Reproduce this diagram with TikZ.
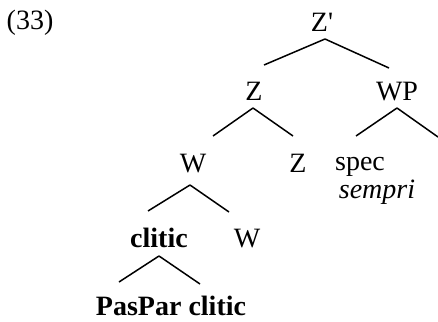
\documentclass[tikz,border=0pt]{standalone}
\usepackage{fontspec}
\setmainfont{Liberation Serif}
\usetikzlibrary{calc}
\begin{document}
\begin{tikzpicture}[x=1pt,y=-1pt,
    lbl/.style={anchor=base,inner sep=0pt,font=\fontsize{28}{32}\selectfont},
    branch/.style={line width=1.5pt}]
    \useasboundingbox (0,0) rectangle (438,321);

    % Número do exemplo
    \node[lbl] (num) at (30,30) {(33)};

    % Rótulos da árvore
    \node[lbl] (zbar) at (322,31) {Z\textquotesingle}; % raiz
    \node[lbl] (z) at (254,100) {Z};
    \node[lbl] (wp) at (397,100) {WP};
    \node[lbl] (w1) at (193,172) {W};
    \node[lbl] (z2) at (298,172) {Z};
    \node[lbl] (spec) at (360,170) {spec};
    \node[lbl] (sempri) at (377,198) {\itshape sempri}; % abaixo de spec
    \node[lbl] (clitic) at (159,247) {\bfseries clitic};
    \node[lbl] (w2) at (247,247) {W};
    \node[lbl] (paspar) at (171,315) {\bfseries PasPar clitic};
    \coordinate (wpend) at (438,137); % ramo que sai da margem

    % Ramos
    \draw[branch] ($(zbar.base)+(3,8)$) -- ($(z.base)+(10,-35)$);
    \draw[branch] ($(zbar.base)+(3,8)$) -- ($(wp.base)+(-8,-32)$);
    \draw[branch] ($(z.base)+(-1,8)$) -- ($(w1.base)+(20,-36)$);
    \draw[branch] ($(z.base)+(-1,8)$) -- ($(z2.base)+(-5,-36)$);
    \draw[branch] ($(wp.base)+(0,8)$) -- ($(spec.base)+(-4,-34)$);
    \draw[branch] ($(wp.base)+(0,8)$) -- (wpend);
    \draw[branch] ($(w1.base)+(-3,13)$) -- ($(clitic.base)+(-11,-36)$);
    \draw[branch] ($(w1.base)+(-3,13)$) -- ($(w2.base)+(-18,-35)$);
    \draw[branch] ($(clitic.base)+(0,9)$) -- ($(paspar.base)+(-52,-33)$);
    \draw[branch] ($(clitic.base)+(0,9)$) -- ($(paspar.base)+(29,-31)$);
\end{tikzpicture}
\end{document}
